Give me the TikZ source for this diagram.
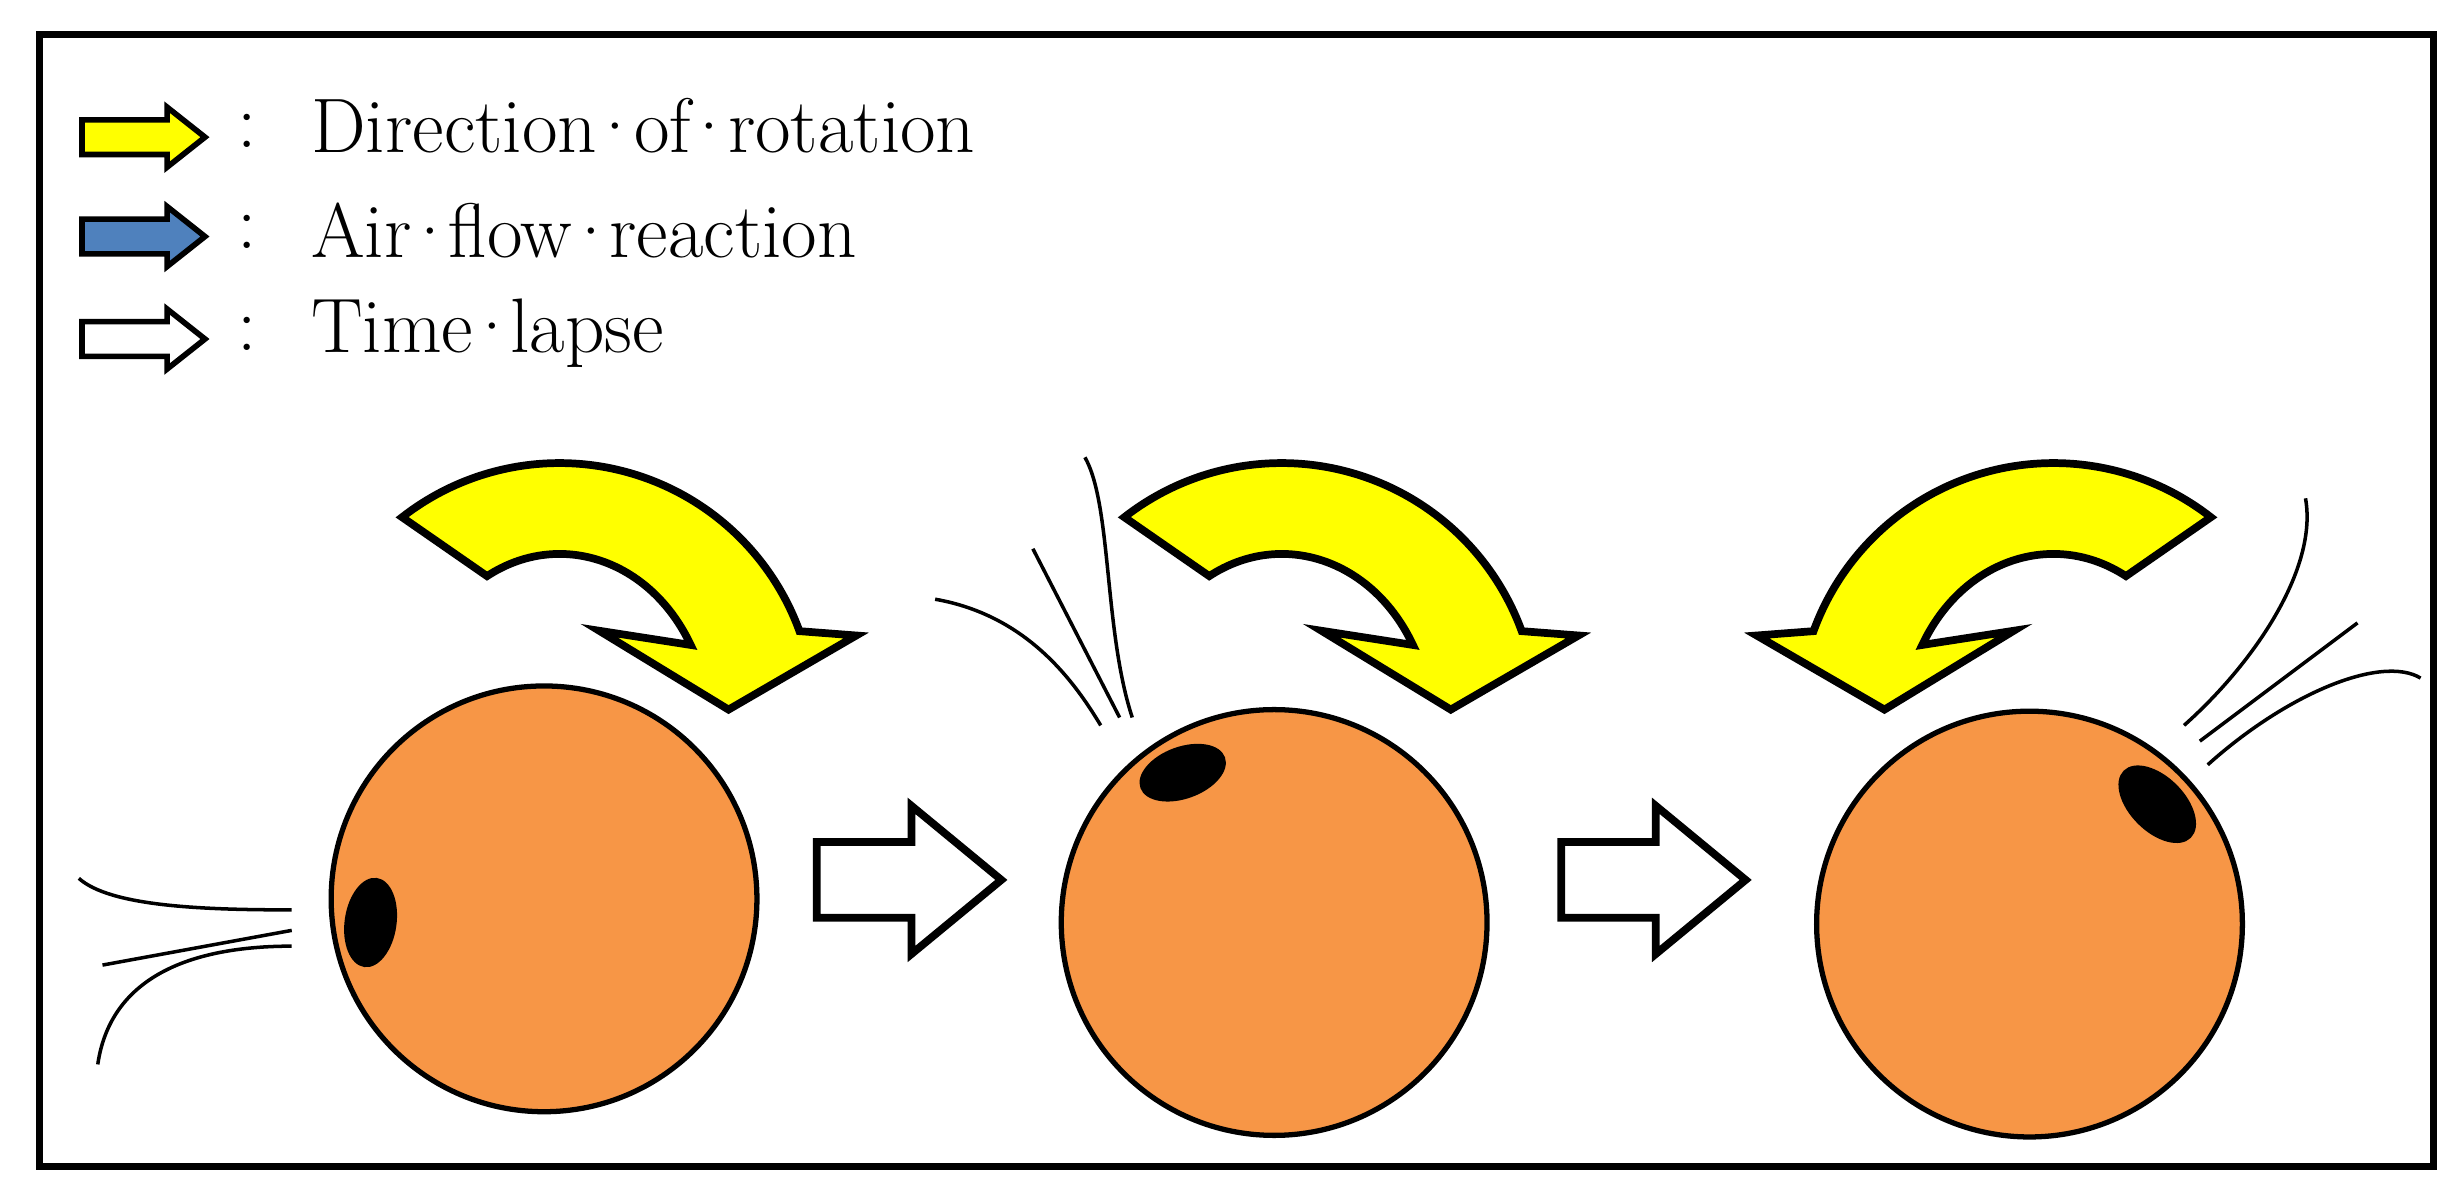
\documentclass[tikz,border=0pt]{standalone}
\usepackage{fontspec}
\definecolor{ballorange}{HTML}{F79646}
\definecolor{flowblue}{HTML}{4F81BD}
\definecolor{rotyellow}{HTML}{FFFF00}
\tikzset{
  ball/.style={circle, draw, line width=1.5pt, fill=ballorange, minimum size=4.26cm, inner sep=0pt},
  spot/.style={ellipse, fill=black, inner sep=0pt},
  rotarrow/.style={draw, line width=2.2pt, fill=rotyellow, line join=miter},
  lapse/.style={draw, line width=2.2pt, fill=white, line join=miter},
  legarrow/.style={draw, line width=1.6pt, line join=miter},
  flow/.style={line width=1pt},
  legtext/.style={anchor=west, font=\fontsize{22}{26}\selectfont, inner sep=0pt}
}
\usetikzlibrary{shapes.geometric}
\newcommand{\md}{\kern-0.12em·\kern-0.12em}
\newcommand{\blockarrow}[7]{% x, y, length, body half, head half, head length, style
  \path[#7] (#1,#2) ++(0,-#4) -- ++(#3-#6,0) -- ++(0,#4-#5) -- ++(#6,#5)
    -- ++(-#6,#5) -- ++(0,#4-#5) -- ++(-#3+#6,0) -- cycle;}
\newcommand{\rotshape}{%
  \path[rotarrow] (255,432) arc[start angle=128, end angle=20, radius=162]
    -- (543,357) -- (462,310) -- (380,360) -- (438,351)
    arc[start angle=29, end angle=119, x radius=95, y radius=112] -- cycle;}
\begin{document}
\begin{tikzpicture}[x=0.01577cm, y=0.01577cm]
    \useasboundingbox (0,0) rectangle (1560,760);
    \draw[line width=2pt] (25,20) rectangle (1543,738);

    % Legend
    \blockarrow{52}{673}{78}{11}{19}{24}{legarrow, fill=rotyellow}
    \blockarrow{52}{610}{78}{11}{19}{24}{legarrow, fill=flowblue}
    \blockarrow{52}{545}{78}{11}{19}{24}{legarrow, fill=white}
    \node[legtext] (col1) at (150,677) {:};
    \node[legtext] (col2) at (150,613) {:};
    \node[legtext] (col3) at (150,548) {:};
    \node[legtext] (t1) at (197,680) {Direction\md of\md rotation};
    \node[legtext] (t2) at (197,614) {Air\md flow\md reaction};
    \node[legtext] (t3) at (197,549) {Time\md lapse};

    % Balls
    \node[ball] (b1) at (345,190) {};
    \node[ball] (b2) at (808,175) {};
    \node[ball] (b3) at (1287,174) {};
    \node[spot, minimum width=0.52cm, minimum height=0.9cm, rotate=-8] at (235,175) {};
    \node[spot, minimum width=0.9cm, minimum height=0.52cm, rotate=20] at (750,270) {};
    \node[spot, minimum width=0.95cm, minimum height=0.55cm, rotate=-45] at (1368,250) {};

    % Rotation arrows
    \rotshape
    \begin{scope}[shift={(458,0)}]\rotshape\end{scope}
    \begin{scope}[shift={(1657,0)}, xscale=-1]\rotshape\end{scope}

    % Time lapse
    \blockarrow{518}{202}{117}{24}{47}{57}{lapse}
    \blockarrow{990}{202}{117}{24}{47}{57}{lapse}

    % Air flow lines
    \draw[flow] (50,203) .. controls (70,185) and (130,183) .. (185,183);
    \draw[flow] (65,148) -- (185,170);
    \draw[flow] (62,85) .. controls (70,140) and (120,160) .. (185,160);
    \draw[flow] (593,380) .. controls (650,370) and (680,330) .. (698,300);
    \draw[flow] (655,412) -- (710,305);
    \draw[flow] (688,470) .. controls (705,440) and (700,360) .. (718,305);
    \draw[flow] (1462,444) .. controls (1470,400) and (1430,340) .. (1385,300);
    \draw[flow] (1395,290) -- (1495,365);
    \draw[flow] (1400,275) .. controls (1450,320) and (1510,345) .. (1535,330);
\end{tikzpicture}
\end{document}
